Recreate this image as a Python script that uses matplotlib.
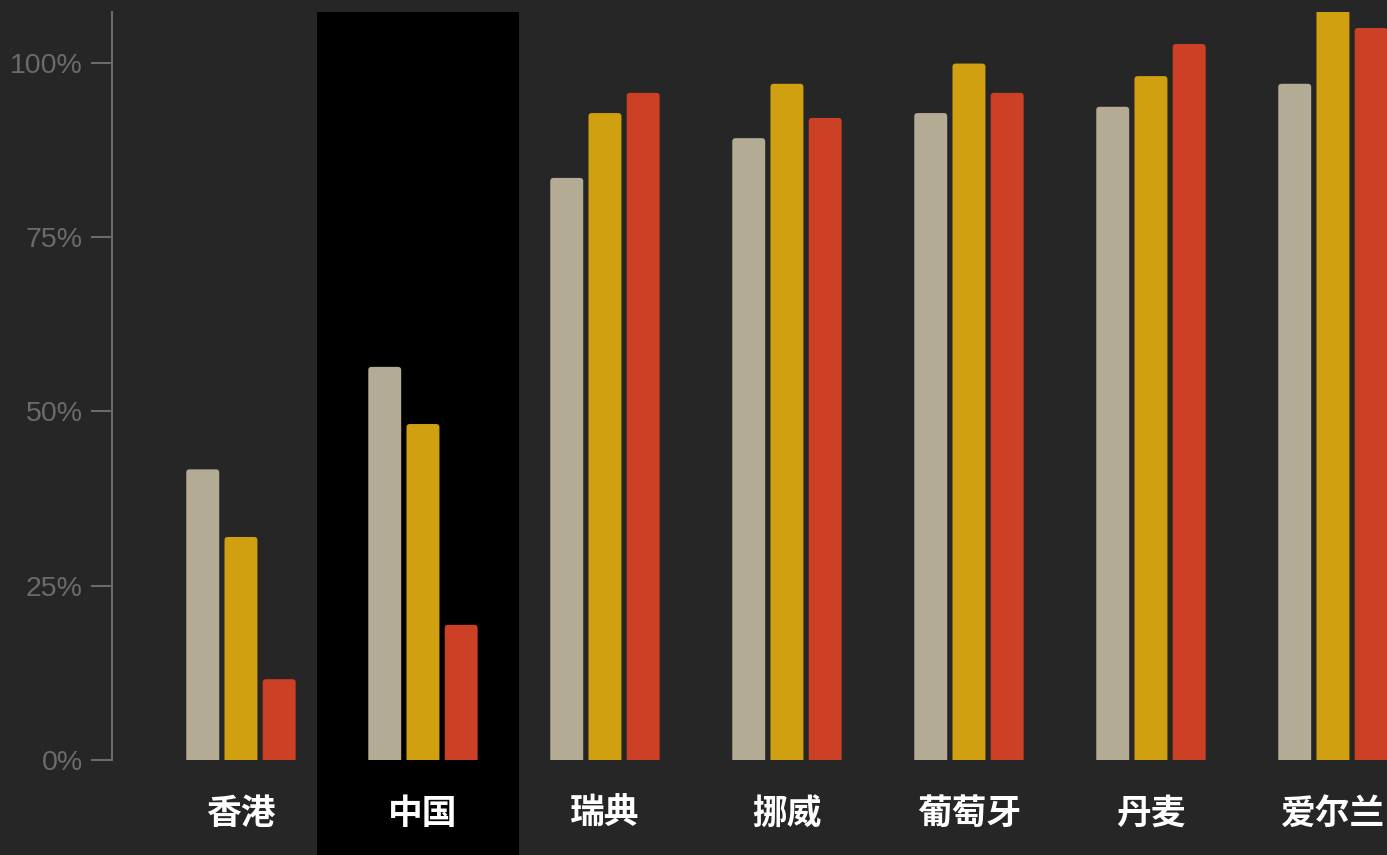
import matplotlib
matplotlib.use("Agg")
import matplotlib.pyplot as plt
from matplotlib.patches import FancyBboxPatch, Rectangle
import matplotlib.transforms as mtransforms

# data (percent)
countries = ["香港", "中国", "瑞典", "挪威", "葡萄牙", "丹麦", "爱尔兰"]
series_a = [41.7, 56.4, 83.5, 89.2, 92.8, 93.7, 97.0]
series_b = [32.0, 48.2, 92.8, 97.0, 99.9, 98.1, 108.0]
series_c = [11.6, 19.4, 95.7, 92.1, 95.7, 102.7, 105.0]
yticks = [0, 25, 50, 75, 100]
highlight = "中国"

colors = ["#b4ab94", "#d0a011", "#cc4125"]
bg = "#262626"
axis_grey = "#6b6b6b"

fig = plt.figure(figsize=(13.87, 8.55), dpi=100, facecolor=bg)
ax = fig.add_axes([0.0807, 0.111, 1 - 0.0807, 0.986 - 0.111])
ax.set_facecolor(bg)
ax.set_xlim(-0.709, 6.297)
ax.set_ylim(0, 107.3)

# highlight band behind the selected country, runs below the axis
hi = countries.index(highlight)
trans = mtransforms.blended_transform_factory(ax.transData, ax.transAxes)
ax.add_patch(Rectangle((hi - 0.582, -0.13), 1.109, 1.13, transform=trans,
                       facecolor="black", edgecolor="none", clip_on=False, zorder=0))

# bars with rounded tops (bottom corners pushed under the axis and clipped)
width = 0.181
step = 0.21
aspect = (107.3 / 748) / (7.006 / 1275)
for k, vals in enumerate([series_a, series_b, series_c]):
    for i, v in enumerate(vals):
        x0 = i + (k - 1) * step - width / 2
        p = FancyBboxPatch((x0, -3), width, v + 3,
                           boxstyle="round,pad=0,rounding_size=0.018",
                           mutation_aspect=aspect,
                           facecolor=colors[k], edgecolor="none", zorder=2)
        ax.add_patch(p)

for s in ["top", "right", "bottom"]:
    ax.spines[s].set_visible(False)
ax.spines["left"].set_color(axis_grey)
ax.spines["left"].set_linewidth(1.5)

ax.set_yticks(yticks)
ax.set_yticklabels([f"{t}%" for t in yticks], fontsize=20.5,
                   family="Liberation Sans", color=axis_grey)
ax.tick_params(axis="y", length=15, width=1.5, color=axis_grey, pad=6)
ax.set_xticks([])

for i, name in enumerate(countries):
    ax.text(i, -0.071, name, transform=trans, ha="center", va="center",
            fontsize=25, fontweight="bold", color="white",
            family=["Noto Sans CJK SC", "DejaVu Sans"])

fig.savefig("out.png", dpi=100, facecolor=bg)
